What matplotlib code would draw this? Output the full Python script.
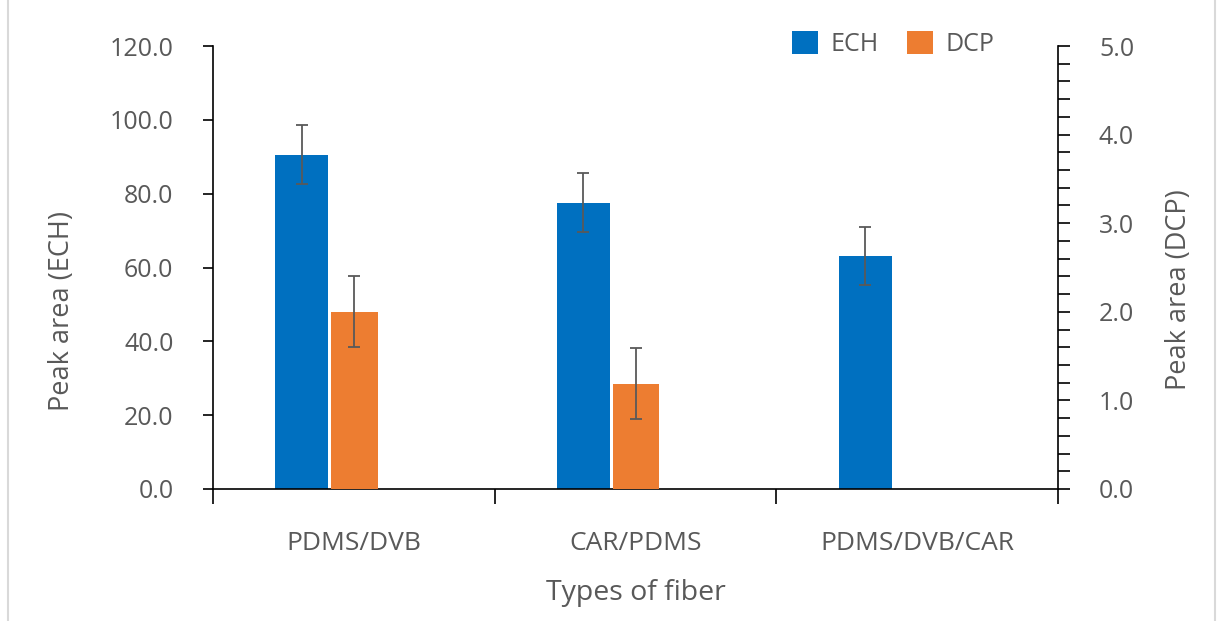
import numpy as np
import matplotlib.pyplot as plt
from matplotlib.ticker import MultipleLocator, FormatStrFormatter
from matplotlib.lines import Line2D

plt.rcParams['font.family'] = ['Open Sans', 'DejaVu Sans']

fibers = ['PDMS/DVB', 'CAR/PDMS', 'PDMS/DVB/CAR']
ech = [90.5, 77.5, 63.1]
ech_err = [8.0, 8.0, 7.9]
dcp = [2.0, 1.19, np.nan]
dcp_err = [0.4, 0.4, np.nan]

blue = '#0070C0'
orange = '#ED7D31'
gray = '#595959'

fig = plt.figure(figsize=(12.19, 6.21), dpi=100)
ax = fig.add_axes([213 / 1219, 1 - 489 / 621, 845 / 1219, 443 / 621])
ax2 = ax.twinx()

x = np.arange(len(fibers))
ax.bar(x - 0.185, ech, width=0.188, color=blue, label='ECH',
       yerr=ech_err, ecolor=gray, capsize=4, error_kw={'elinewidth': 1.3, 'capthick': 1.3})
ax2.bar(x + 0.002, dcp, width=0.165, color=orange, label='DCP',
        yerr=dcp_err, ecolor=gray, capsize=4, error_kw={'elinewidth': 1.3, 'capthick': 1.3})

ax.set_xlim(-0.5, 2.5)
ax.set_ylim(0, 120)
ax2.set_ylim(0, 5)

ax.yaxis.set_major_locator(MultipleLocator(20))
ax.yaxis.set_major_formatter(FormatStrFormatter('%.1f'))
ax2.yaxis.set_major_locator(MultipleLocator(1))
ax2.yaxis.set_minor_locator(MultipleLocator(0.2))
ax2.yaxis.set_major_formatter(FormatStrFormatter('%.1f'))

ax.set_xticks(x)
ax.set_xticklabels(fibers)
ax.set_xticks([-0.5, 0.5, 1.5, 2.5], minor=True)
ax.tick_params(axis='x', which='major', length=0, pad=30, labelsize=19, labelcolor=gray)
ax.tick_params(axis='x', which='minor', length=11, width=1.2, direction='out')
ax.tick_params(axis='y', length=7.5, width=1.2, labelsize=18, labelcolor=gray, pad=21)
ax2.tick_params(axis='y', which='both', length=8.5, width=1.2, labelsize=18, labelcolor=gray, pad=21)

for a in (ax, ax2):
    a.spines['top'].set_visible(False)
    for s in ('left', 'right', 'bottom'):
        a.spines[s].set_linewidth(1.2)
ax.spines['right'].set_visible(False)
ax2.spines['left'].set_visible(False)
ax2.spines['bottom'].set_visible(False)

ax.set_ylabel('Peak area (ECH)', fontsize=19.5, color=gray, labelpad=24)
ax2.set_ylabel('Peak area (DCP)', fontsize=19.5, color=gray, labelpad=22)
ax.yaxis.label.set_y(0.402)
ax2.yaxis.label.set_y(0.449)
ax.set_xlabel('Types of fiber', fontsize=20.5, color=gray, labelpad=17)

h1, l1 = ax.get_legend_handles_labels()
h2, l2 = ax2.get_legend_handles_labels()
leg = ax2.legend(h1 + h2, l1 + l2, loc='center', bbox_to_anchor=(0.805, 1.005),
                 ncol=2, frameon=False, fontsize=18, labelcolor=gray, borderpad=0,
                 handlelength=1.04, handleheight=1.04, columnspacing=1.1, handletextpad=0.5)

fig.add_artist(Line2D([8 / 1219, 8 / 1219], [0, 1], color='#D9D9D9', lw=1.5))
fig.add_artist(Line2D([1215 / 1219, 1215 / 1219], [0, 1], color='#D9D9D9', lw=1.5))

fig.savefig('out.png', dpi=100)
